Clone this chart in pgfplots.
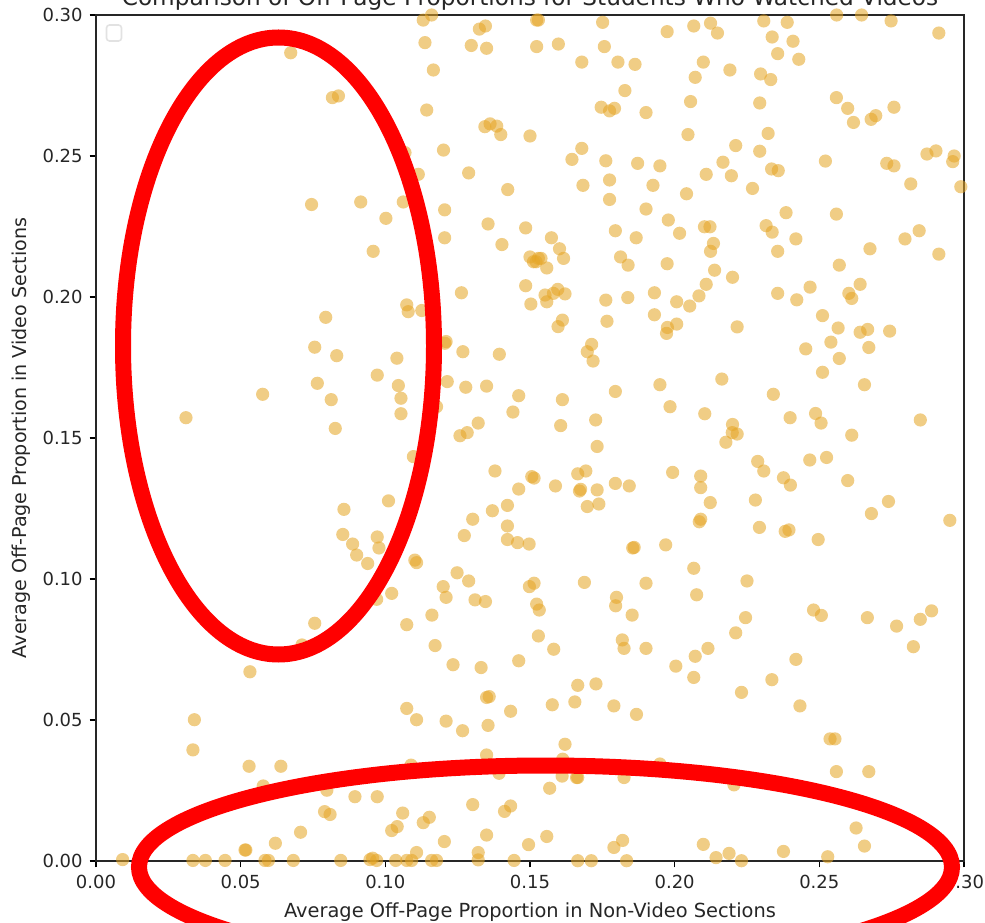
\documentclass[border=0pt]{standalone}
\usepackage{fontspec}
\setmainfont{DejaVu Sans}
\usepackage{pgfplots}
\pgfplotsset{compat=1.18}
\definecolor{dotc}{HTML}{E5A525}
\definecolor{boxc}{HTML}{E2E2E2}

\begin{document}
\begin{tikzpicture}[x=0.5pt,y=0.5pt]
% page frame in reference pixels, axis corner at the origin
\useasboundingbox (-96,-61) rectangle (889,861);
\begin{axis}[
    at={(0,0)},
    anchor=south west,
    scale only axis,
    width=434pt,
    height=423pt,
    xmin=0, xmax=0.30,
    ymin=0, ymax=0.30,
    xtick={0,0.05,0.10,0.15,0.20,0.25,0.30},
    ytick={0,0.05,0.10,0.15,0.20,0.25,0.30},
    tick align=outside,
    tick pos=left,
    major tick length=3.15pt,
    every tick/.style={black,line width=0.7pt},
    axis line style={line width=0.7pt,black!85},
    axis on top,
    /pgf/number format/assume math mode=true,
    /pgf/number format/fixed,
    /pgf/number format/fixed zerofill,
    /pgf/number format/precision=2,
    scaled ticks=false,
    ticklabel style={font=\fontsize{9}{11}\selectfont,text=black!85},
    xticklabel style={yshift=-0.5pt},
    xlabel={Average Off-Page Proportion in Non-Video Sections},
    ylabel={Average Off-Page Proportion in Video Sections},
    xlabel style={font=\fontsize{9.7}{11}\selectfont,text=black!85,at={(axis description cs:0.5,0)},anchor=north,yshift=-17.5pt},
    ylabel style={font=\fontsize{9.55}{11}\selectfont,text=black!85,at={(axis description cs:0,0.5)},anchor=south,yshift=29pt},
    title={Comparison of Off-Page Proportions for Students Who Watched Videos},
    title style={font=\fontsize{11.6}{13}\selectfont,text=black!85,at={(axis description cs:0.5,1)},anchor=south,yshift=-7.2pt},
]
\addplot[only marks,mark=*,mark size=3.3pt,mark options={draw=dotc,draw opacity=0,fill=dotc,fill opacity=0.56}]
coordinates {
(.1131,.2982)(.1160,.3000)(.1325,.2950)(.1346,.2961)(.1523,.2982)(.1137,.2902)(.1297,.2892)(.1350,.2882)
(.1523,.2888)(.1166,.2805)(.0673,.2866)(.0817,.2707)(.0838,.2713)(.1143,.2663)(.1344,.2604)(.1362,.2614)
(.1385,.2606)(.1399,.2576)(.1500,.2571)(.1201,.2521)(.1068,.2512)(.1114,.2435)(.1288,.2440)(.1423,.2381)
(.0745,.2328)(.0915,.2337)(.1062,.2337)(.1002,.2279)(.1205,.2309)(.1355,.2259)(.1485,.2245)(.1205,.2210)
(.1403,.2186)(.0958,.2162)(.1500,.2142)(.1521,.2125)(.1538,.2137)(.1485,.2040)(.1263,.2015)(.1074,.1972)
(.1079,.1948)(.1126,.1952)
(.1529,.2982)(.1751,.2974)(.1974,.2941)(.2066,.2961)(.2124,.2971)(.2148,.2936)(.2308,.2979)(.2389,.2974)
(.2560,.3000)(.2646,.3000)(.2748,.2979)(.2913,.2936)(.1598,.2897)(.1757,.2888)(.1679,.2833)(.1804,.2833)
(.1863,.2825)(.2337,.2922)(.2409,.2907)(.2356,.2863)(.2429,.2843)(.2099,.2833)(.2191,.2805)(.2071,.2779)
(.2297,.2791)(.2332,.2771)(.1828,.2732)(.2055,.2693)(.2294,.2688)(.1746,.2673)(.1775,.2660)(.1792,.2669)
(.1901,.2654)(.2559,.2707)(.2598,.2669)(.2618,.2619)(.2679,.2630)(.2695,.2643)(.2758,.2673)(.2046,.2576)
(.2323,.2580)(.2211,.2537)(.2294,.2517)(.1679,.2527)(.1645,.2488)(.1762,.2483)(.1872,.2474)(.1949,.2465)
(.2167,.2478)(.2109,.2435)(.2196,.2430)(.2335,.2454)(.2358,.2448)(.2521,.2482)(.2733,.2474)(.2758,.2465)
(.2872,.2507)(.2903,.2518)(.2966,.2500)(.2961,.2480)(.2816,.2401)(.2989,.2391)(.1683,.2396)(.1775,.2415)
(.1925,.2396)(.1775,.2346)(.2041,.2366)(.2269,.2385)(.1901,.2312)(.1978,.2273)(.2017,.2226)(.1795,.2235)
(.1867,.2210)(.2103,.2249)(.2122,.2249)(.2134,.2190)(.2124,.2162)(.2316,.2253)(.2337,.2230)(.2385,.2299)
(.2419,.2206)(.2356,.2162)(.2559,.2294)(.2675,.2171)(.2796,.2206)(.2845,.2235)(.2913,.2152)(.2569,.2113)
(.2641,.2045)(.2602,.2013)(.2612,.1995)(.2468,.2035)(.2356,.2013)(.2422,.1990)(.2138,.2095)(.2200,.2070)
(.2109,.2045)(.2084,.2004)(.1974,.2118)(.1813,.2142)(.1839,.2113)(.1930,.2015)(.2007,.1983)(.1838,.1998)
(.1762,.1989)(.1574,.2210)(.1602,.2171)(.1616,.2137)(.1558,.2103)(.1529,.2137)(.1512,.2125)(.1552,.2007)
(.1596,.2027)(.1581,.2013)(.1621,.2011)
(.0794,.1928)(.0756,.1822)(.0832,.1792)(.1040,.1783)(.1210,.1842)(.1206,.1836)(.1268,.1806)(.1394,.1797)
(.0972,.1723)(.1045,.1686)(.1054,.1641)(.1054,.1586)(.0765,.1694)(.0813,.1636)(.0827,.1534)(.0576,.1655)
(.0311,.1572)(.1214,.1700)(.1278,.1680)(.1350,.1684)(.1461,.1650)(.1441,.1592)(.1321,.1553)(.1283,.1519)
(.1258,.1508)(.1177,.1611)(.1097,.1434)(.1379,.1383)(.1506,.1363)(.1514,.1358)(.1461,.1319)(.1422,.1261)
(.1370,.1242)(.1302,.1212)(.1422,.1188)(.1273,.1154)(.1422,.1140)(.1457,.1129)(.1497,.1124)(.1011,.1277)
(.0857,.1247)(.0853,.1158)(.0887,.1124)(.0901,.1085)(.0939,.1055)(.0972,.1149)(.0978,.1110)(.1102,.1067)
(.1108,.1058)(.1248,.1022)(.1288,.0993)(.1022,.0949)(.1200,.0973)(.1498,.0973)(.1514,.0985)
(.1558,.1983)(.1503,.1975)(.2052,.1968)(.1930,.1937)(.1766,.1914)(.1612,.1918)(.1597,.1895)(.1975,.1892)
(.2007,.1904)(.1972,.1871)(.2216,.1894)(.2511,.1934)(.2565,.1890)(.2540,.1840)(.2453,.1816)(.2569,.1782)
(.2511,.1733)(.2641,.1875)(.2667,.1885)(.2743,.1879)(.2671,.1821)(.2656,.1689)(.1713,.1832)(.1698,.1806)
(.1718,.1773)(.1795,.1665)(.1612,.1636)(.1606,.1544)(.1727,.1564)(.1732,.1470)(.1949,.1689)(.2163,.1709)
(.2341,.1655)(.1984,.1611)(.2104,.1586)(.2200,.1548)(.2199,.1519)(.2216,.1514)(.2177,.1485)(.2399,.1572)
(.2487,.1587)(.2506,.1553)(.2612,.1510)(.2849,.1564)(.2287,.1417)(.2308,.1383)(.2376,.1359)(.2400,.1333)
(.2467,.1422)(.2525,.1431)(.2598,.1349)(.1993,.1378)(.2090,.1365)(.2090,.1324)(.2123,.1271)(.2279,.1280)
(.2293,.1183)(.2382,.1169)(.2395,.1174)(.2496,.1140)(.2680,.1232)(.2739,.1275)(.2951,.1208)(.2090,.1212)
(.2085,.1203)(.1969,.1121)(.1855,.1110)(.1860,.1112)(.1665,.1373)(.1693,.1383)(.1588,.1330)(.1671,.1312)
(.1675,.1318)(.1732,.1316)(.1795,.1339)(.1843,.1330)(.1698,.1257)(.1738,.1266)(.2066,.1038)(.2250,.0993)
(.1901,.0985)(.1688,.0988)
(.0970,.0928)(.1210,.0935)(.1310,.0926)(.1346,.0920)(.1523,.0911)(.1532,.0890)(.1529,.0798)(.1161,.0872)
(.1074,.0838)(.0756,.0843)(.0712,.0766)(.1172,.0764)(.1234,.0696)(.1331,.0686)(.1461,.0710)(.0532,.0671)
(.1350,.0580)(.1359,.0583)(.1074,.0541)(.1108,.0501)(.1210,.0496)(.1267,.0462)(.1355,.0481)(.1433,.0531)
(.0340,.0501)(.0335,.0394)(.0529,.0336)(.0639,.0336)(.0578,.0266)(.0798,.0251)(.0895,.0228)(.0972,.0228)
(.1089,.0340)(.1350,.0376)(.1393,.0311)(.0790,.0175)(.0809,.0165)(.1060,.0170)(.1152,.0155)(.1131,.0136)
(.1041,.0122)(.1022,.0108)(.1302,.0200)(.1433,.0195)(.1412,.0176)(.0707,.0102)(.0620,.0063)(.0515,.0039)
(.0518,.0039)(.1204,.0069)(.1350,.0092)(.1495,.0058)(.1321,.0030)(.1108,.0030)(.1321,.0004)
(.0092,.0005)(.0335,.0002)(.0378,.0002)(.0446,.0002)(.0584,.0002)(.0596,.0002)(.0682,.0002)(.0846,.0002)
(.0947,.0005)(.0956,.0010)(.0970,.0002)(.1036,.0002)(.1074,.0002)(.1091,.0002)(.1160,.0002)(.1177,.0002)
(.1445,.0002)
(.2076,.0944)(.1799,.0935)(.1796,.0905)(.1853,.0872)(.2480,.0890)(.2507,.0871)(.2666,.0863)(.2767,.0833)
(.2849,.0857)(.2888,.0887)(.2825,.0760)(.2245,.0863)(.2211,.0809)(.1582,.0751)(.1819,.0784)(.1825,.0754)
(.1901,.0754)(.2115,.0754)(.2071,.0726)(.2004,.0691)(.2066,.0651)(.2419,.0715)(.2336,.0643)(.2231,.0598)
(.2433,.0550)(.1665,.0623)(.1728,.0628)(.1655,.0564)(.1577,.0554)(.1790,.0550)(.1868,.0520)(.1621,.0414)
(.1613,.0361)(.1611,.0301)(.1665,.0296)(.1661,.0296)(.1825,.0296)(.1568,.0258)(.1949,.0344)(.2205,.0270)
(.2537,.0433)(.2554,.0433)(.2559,.0317)(.2671,.0317)(.2627,.0117)(.2656,.0053)(.2529,.0015)(.2376,.0034)
(.2188,.0027)(.2143,.0012)(.2231,.0001)(.2099,.0059)(.1820,.0073)(.1790,.0048)(.1834,.0001)(.1712,.0001)
(.1665,.0001)(.1558,.0087)
};
\end{axis}
% empty legend frame
\draw[boxc,line width=0.8pt,rounded corners=1.5pt,fill=white] (10.5,820) rectangle (25.5,836);
% hand-drawn red rings
\draw[red,line width=8pt] (182.5,515) ellipse [x radius=155.5,y radius=308.5];
\draw[red,line width=8pt] (449.5,-6) ellipse [x radius=406.5,y radius=101.5];
\end{tikzpicture}
\end{document}
